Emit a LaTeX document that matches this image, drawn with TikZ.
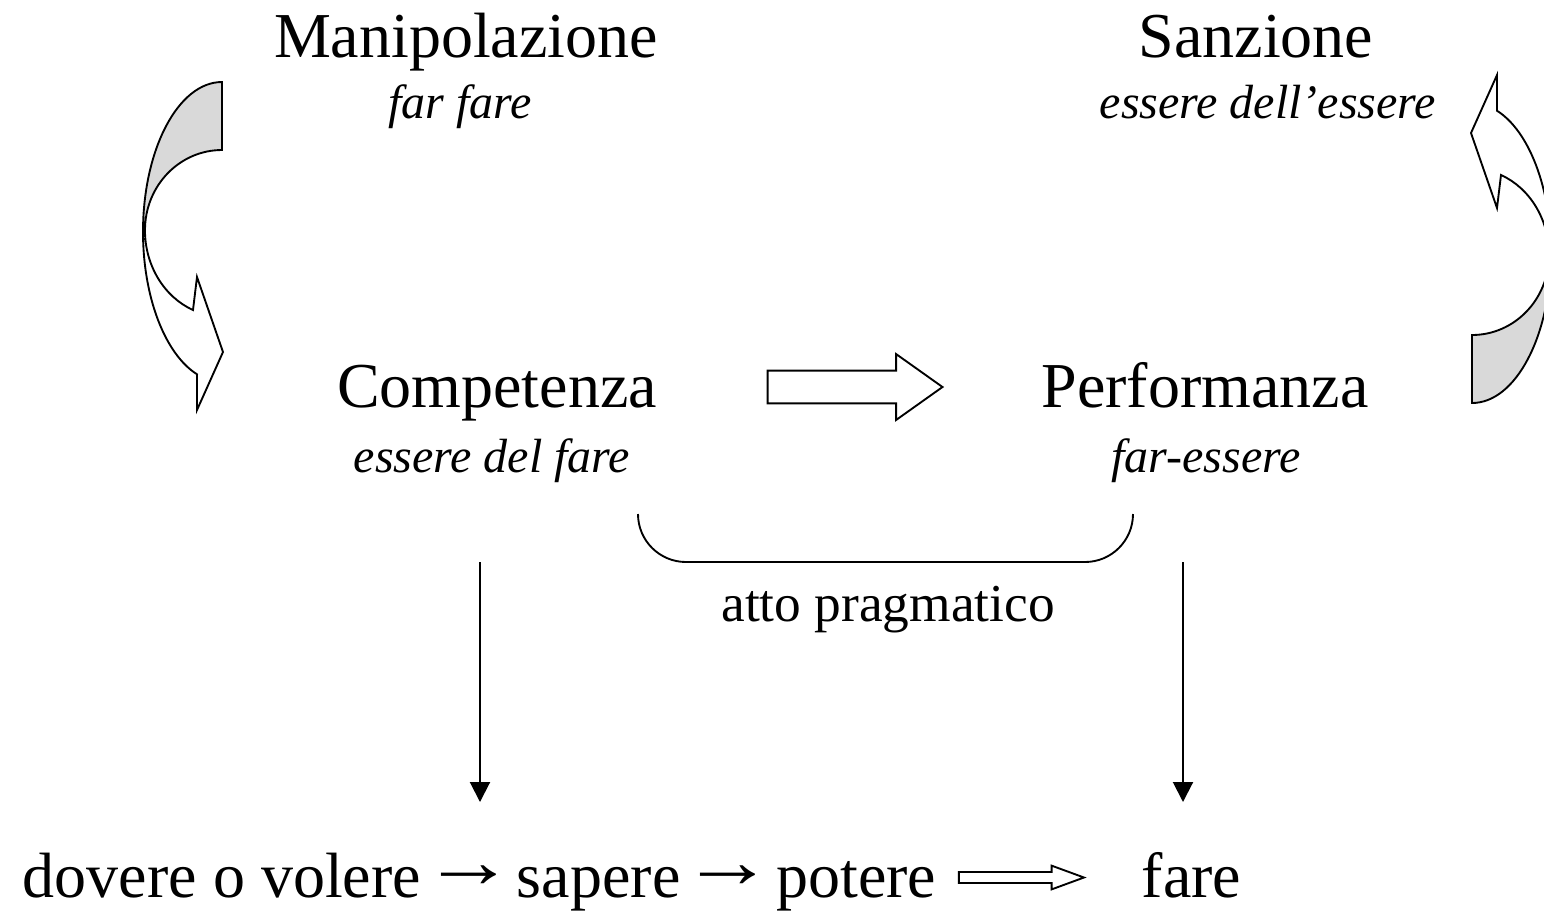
\documentclass[tikz,border=0pt]{standalone}
\usepackage{graphicx}
\usepackage{fontspec}
\setmainfont{Liberation Serif}
\usetikzlibrary{arrows.meta,positioning,shapes.arrows,calc}
\newsavebox\arrbox
\newcommand\tto{\sbox\arrbox{→}\makebox[\wd\arrbox]{\raisebox{3.5pt}{\scalebox{1.45}[1.2]{→}}}}

\begin{document}
\begin{tikzpicture}[
  x=0.375pt, y=-0.375pt,
  line width=0.7pt,
  ttl/.style={font=\fontsize{24}{28}\selectfont,inner sep=0pt,anchor=base},
  sub/.style={font=\fontsize{18}{22}\selectfont\itshape,inner sep=0pt,anchor=base},
  fat/.style={single arrow,draw,fill=white,inner xsep=0pt,line width=0.7pt},
  ar/.style={-{Triangle[length=7.5pt,width=7.5pt]},line width=0.75pt},
  pics/bendarrow/.style={code={
    \filldraw[fill=white] (143,232) arc[start angle=180,end angle=108.4,x radius=79,y radius=150]
      -- (197,410) -- (223,352) -- (197,277) -- (193,310)
      arc[start angle=112.1,end angle=180,x radius=77,y radius=86] -- cycle;
    \filldraw[fill=black!15] (222,82) arc[start angle=-90,end angle=-180,x radius=79,y radius=150]
      -- (145,230) arc[start angle=180,end angle=270,x radius=77,y radius=80] -- cycle;
  }}
]
\useasboundingbox (0,0) rectangle (1544,913);

% ---- top row
\node[ttl] (manip) at (466,57) {Manipolazione};
\node[sub] (farfare) at (460,118) {far fare};
\node[ttl] (sanz) at (1256,57) {Sanzione};
\node[sub] (eess) at (1268,118) {essere dell’essere};

% ---- middle row
\node[ttl] (comp) at (497,407) {Competenza};
\node[sub] (efare) at (492,472) {essere del fare};
\node[ttl] (perf) at (1205,407) {Performanza};
\node[sub] (fess) at (1206,472) {far-essere};
\node[fat,minimum height=65.6pt,inner ysep=5.8pt,single arrow head extend=6.2pt,
  single arrow tip angle=70.8] (mid) at (843.5,387) {};

% ---- curved arrows
\pic at (0,0) {bendarrow};
\pic[rotate=180] at (1694,485) {bendarrow};

% ---- pragmatic act
\coordinate (bl) at (638,514);
\coordinate (br) at (1133,514);
\draw[rounded corners=18pt] (bl) -- (638,562) -- (1133,562) -- (br);
\node[font=\fontsize{20}{24}\selectfont,inner sep=0pt,anchor=base] (atto) at (888,621) {atto pragmatico};

% ---- bottom row
\node[ttl,anchor=base west] (chain) at (22,897) {dovere o volere \tto{} sapere \tto{} potere};
\node[fat,minimum height=46.9pt,inner ysep=1.7pt,single arrow head extend=2.4pt,
  single arrow tip angle=40.3] (impl) at (1014,877.5) {};
\node[ttl,anchor=base west] (fare) at (1141,897) {fare};

\coordinate (a0) at (480,562);
\coordinate (a1) at (480,802);
\coordinate (b0) at (1183,562);
\coordinate (b1) at (1183,802);
\draw[ar] (a0) -- (a1);
\draw[ar] (b0) -- (b1);
\end{tikzpicture}
\end{document}
